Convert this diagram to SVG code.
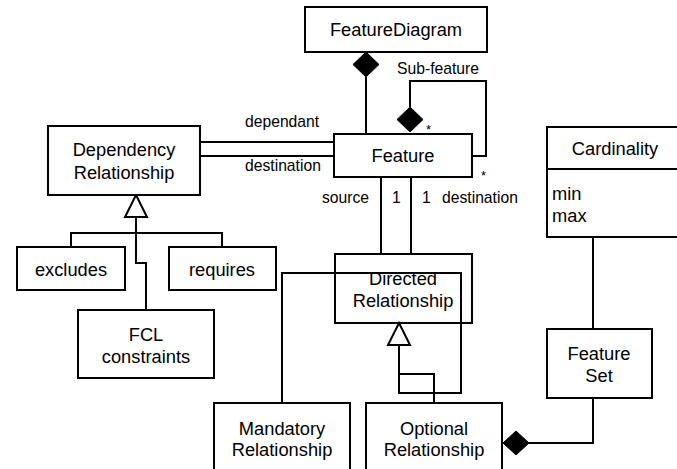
<svg xmlns="http://www.w3.org/2000/svg" width="677" height="469" viewBox="0 0 677 469">
<style>
.box{fill:#fff;stroke:#000;stroke-width:2}
.ln{fill:none;stroke:#000;stroke-width:2}
.dia{fill:#000;stroke:#000;stroke-width:1}
.tri{fill:#fff;stroke:#000;stroke-width:2}
text{font-family:"Liberation Sans",Arial,sans-serif;fill:#000}
.t{font-size:18.3px;text-anchor:middle}
.a{font-size:18.3px}
.l{font-size:15.7px}
.s{font-size:13px}
</style>
<rect width="677" height="469" fill="#fff"/>
<g id="connectors">
<path class="ln" d="M366,77 V134"/>
<path class="ln" d="M410,107 V81 H486 V156 H472"/>
<path class="ln" d="M200,142 H334 M200,156 H334"/>
<path class="ln" d="M136,217 V263 H146 V310 M71,247 V233 H222 V247"/>
<path class="ln" d="M381,177 V254 M411,177 V254"/>
<path class="ln" d="M399,345 V393 H461 V273 H282 V403 M399,374 H434 V403"/>
<path class="ln" d="M593,237 V329 M593,398 V443 H529"/>
<polygon class="dia" points="366,52 379,64.5 366,77 353,64.5"/>
<polygon class="dia" points="410,107 423,119.5 410,132 397,119.5"/>
<polygon class="dia" points="516,431 529,443 516,455 503,443"/>
<polygon class="tri" points="136,195 147,217 125,217"/>
<polygon class="tri" points="399,323 410,345 388,345"/>
<text class="l" x="245" y="127">dependant</text>
<text class="l" x="245" y="171">destination</text>
<text class="l" x="397" y="74">Sub-feature</text>
<text class="s" x="426" y="134">*</text>
<text class="s" x="481" y="180">*</text>
<text class="l" x="322" y="203">source</text>
<text class="l" x="392" y="203">1</text>
<text class="l" x="422" y="203">1</text>
<text class="l" x="442" y="203">destination</text>
</g>
<g id="FeatureDiagram"><rect class="box" x="305" y="7" width="182" height="45"/><text class="t" x="396" y="36">FeatureDiagram</text></g>
<g id="Feature"><rect class="box" x="334" y="134" width="138" height="43"/><text class="t" x="403" y="162">Feature</text></g>
<g id="DependencyRelationship"><rect class="box" x="48" y="126" width="152" height="69"/><text class="t" x="124" y="156">Dependency</text><text class="t" x="124" y="179">Relationship</text></g>
<g id="excludes"><rect class="box" x="17" y="247" width="108" height="43"/><text class="t" x="71" y="276">excludes</text></g>
<g id="requires"><rect class="box" x="169" y="247" width="107" height="43"/><text class="t" x="222" y="276">requires</text></g>
<g id="FCLconstraints"><rect class="box" x="78" y="310" width="136" height="68"/><text class="t" x="146" y="341">FCL</text><text class="t" x="146" y="363">constraints</text></g>
<g id="DirectedRelationship"><rect class="box" x="335" y="254" width="137" height="69" fill-opacity="0"/><text class="t" x="403" y="285">Directed</text><text class="t" x="403" y="307">Relationship</text></g>
<g id="MandatoryRelationship"><rect class="box" x="214" y="403" width="136" height="70"/><text class="t" x="282" y="435">Mandatory</text><text class="t" x="282" y="456">Relationship</text></g>
<g id="OptionalRelationship"><rect class="box" x="366" y="403" width="136" height="70"/><text class="t" x="434" y="435">Optional</text><text class="t" x="434" y="456">Relationship</text></g>
<g id="Cardinality"><rect class="box" x="547" y="127" width="135" height="110"/><path class="ln" d="M547,169 H682"/><text class="t" x="615" y="155">Cardinality</text><text class="a" x="552" y="200">min</text><text class="a" x="552" y="222">max</text></g>
<g id="FeatureSet"><rect class="box" x="547" y="329" width="105" height="69"/><text class="t" x="599" y="360">Feature</text><text class="t" x="599" y="382">Set</text></g>
</svg>
